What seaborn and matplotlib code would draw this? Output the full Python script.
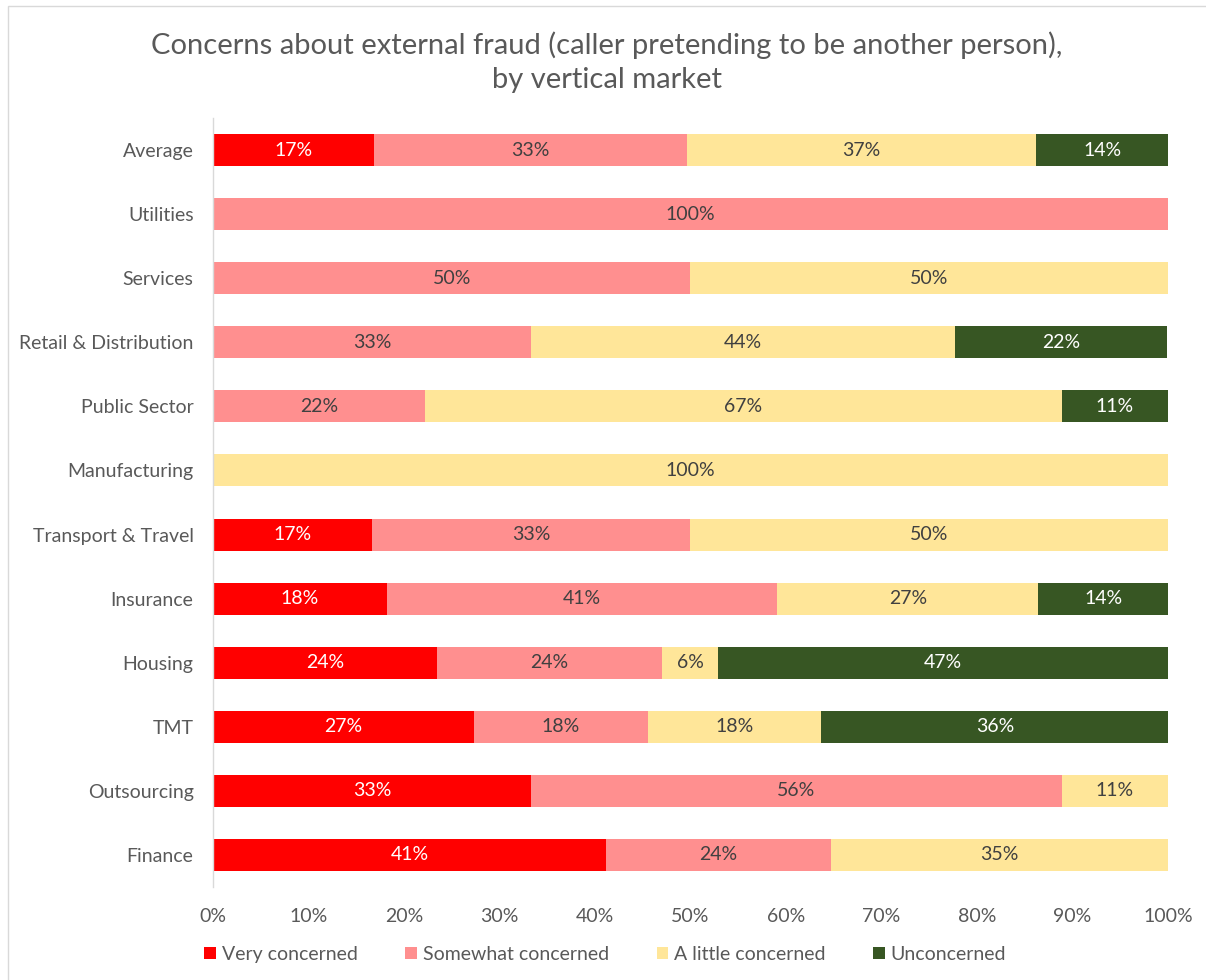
import matplotlib
matplotlib.use('Agg')

import pandas as pd
import numpy as np
import matplotlib.pyplot as plt
import seaborn as sns
from matplotlib.patches import Patch, Rectangle

# data (percent of respondents per vertical market)
markets = ['Average', 'Utilities', 'Services', 'Retail & Distribution', 'Public Sector',
           'Manufacturing', 'Transport & Travel', 'Insurance', 'Housing', 'TMT',
           'Outsourcing', 'Finance']
very = [16.9, 0, 0, 0, 0, 0, 16.7, 18.2, 23.5, 27.3, 33.3, 41.2]
somewhat = [32.7, 100, 50, 33.3, 22.2, 0, 33.3, 40.9, 23.5, 18.2, 55.6, 23.5]
little = [36.6, 0, 50, 44.4, 66.7, 100, 50, 27.3, 5.9, 18.2, 11.1, 35.3]
unconcerned = [13.8, 0, 0, 22.2, 11.1, 0, 0, 13.6, 47.1, 36.4, 0, 0]

series = ['Very concerned', 'Somewhat concerned', 'A little concerned', 'Unconcerned']
colors = ['#FF0000', '#FF8F8F', '#FFE699', '#375623']
label_colors = ['white', '#404040', '#404040', 'white']

sns.set_style('white')
plt.rcParams['font.family'] = ['Lato', 'DejaVu Sans']
txt = '#595959'

df = pd.DataFrame({'market': markets, series[0]: very, series[1]: somewhat,
                   series[2]: little, series[3]: unconcerned})
vals = df[series].values
cum = np.cumsum(vals, axis=1)

fig = plt.figure(figsize=(12.06, 9.8), dpi=100)
ax = fig.add_axes([0.1766, 0.0949, 0.7919, 0.7847])

# stacked bars: draw cumulative totals from the last series backwards
for i in range(len(series) - 1, -1, -1):
    tmp = pd.DataFrame({'market': markets, 'x': cum[:, i]})
    sns.barplot(data=tmp, x='x', y='market', color=colors[i], saturation=1,
                width=0.5, ax=ax, orient='h', linewidth=0)

# segment labels
for r in range(len(markets)):
    for i in range(len(series)):
        v = vals[r, i]
        if v <= 0:
            continue
        c = cum[r, i] - v / 2
        ax.text(c, r, f'{v:.0f}%', ha='center', va='center',
                color=label_colors[i], fontsize=14)

ax.set_xlim(0, 100)
ax.set_xticks(np.arange(0, 101, 10))
ax.set_xticklabels([f'{t}%' for t in range(0, 101, 10)])
ax.set_xlabel('')
ax.set_ylabel('')
ax.tick_params(axis='both', length=0, labelsize=14, colors=txt)
ax.tick_params(axis='x', pad=15)
ax.tick_params(axis='y', pad=14)
for s in ['top', 'right', 'bottom']:
    ax.spines[s].set_visible(False)
ax.spines['left'].set_color('#D9D9D9')
ax.spines['left'].set_linewidth(1)

fig.text(0.503, 0.937, 'Concerns about external fraud (caller pretending to be another person),\nby vertical market',
         ha='center', va='center', fontsize=21, color=txt, linespacing=1.38)

handles = [Patch(facecolor=colors[i], edgecolor='none', label=series[i]) for i in range(4)]
fig.legend(handles=handles, loc='center', bbox_to_anchor=(0.502, 0.0265), ncol=4,
           frameon=False, fontsize=14, labelcolor=txt, handlelength=0.6, handleheight=0.6,
           handletextpad=0.3, columnspacing=2.45)

# chart border
fig.patches.append(Rectangle((8 / 1206, -0.01), 1.0, 1 - 6 / 980 + 0.01, transform=fig.transFigure,
                             fill=False, edgecolor='#D9D9D9', linewidth=1))

fig.savefig('out.png', dpi=100)
